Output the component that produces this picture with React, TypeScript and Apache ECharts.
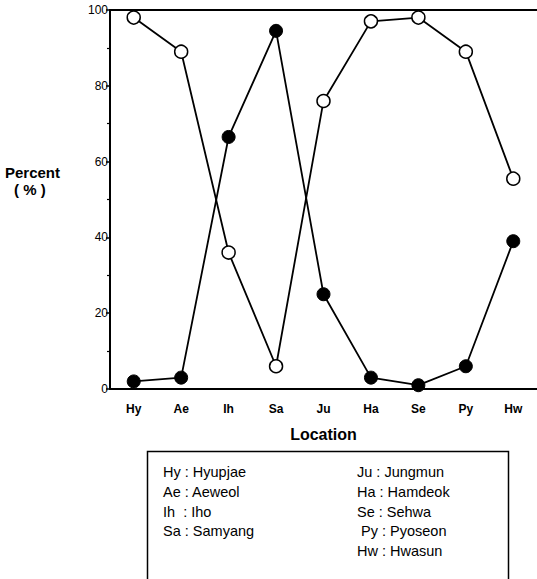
import React, { useEffect, useRef } from "react";
import * as echarts from "echarts";

const categories = ["Hy", "Ae", "Ih", "Sa", "Ju", "Ha", "Se", "Py", "Hw"];
const openSeries = [98, 89, 36, 6, 76, 97, 98, 89, 55.5];
const filledSeries = [2, 3, 66.5, 94.5, 25, 3, 1, 6, 39];
const yTicks = [0, 20, 40, 60, 80, 100];
const legendLeft = ["Hy : Hyupjae", "Ae : Aeweol", "Ih  : Iho", "Sa : Samyang"];
const legendRight = ["Ju : Jungmun", "Ha : Hamdeok", "Se : Sehwa", " Py : Pyoseon", "Hw : Hwasun"];

const FONT = "'Liberation Sans', Arial, Helvetica, sans-serif";

export default function App() {
  const ref = useRef<HTMLDivElement>(null);
  useEffect(() => {
    if (!ref.current) return;
    const chart = echarts.init(ref.current, null, { renderer: "svg" });
    const legendTexts: any[] = [];
    legendLeft.forEach((t, i) => {
      legendTexts.push({
        type: "text",
        x: 163,
        y: 472 + i * 19.8,
        style: { text: t, font: `14.5px ${FONT}`, fill: "#000", verticalAlign: "middle" },
      });
    });
    legendRight.forEach((t, i) => {
      legendTexts.push({
        type: "text",
        x: 357,
        y: 472 + i * 19.8,
        style: { text: t, font: `14.5px ${FONT}`, fill: "#000", verticalAlign: "middle" },
      });
    });
    chart.setOption({
      animation: false,
      backgroundColor: "#fff",
      grid: { left: 110, right: 0, top: 10, bottom: 190, containLabel: false },
      xAxis: [
        {
          type: "category",
          data: categories,
          boundaryGap: true,
          axisLine: { lineStyle: { color: "#000", width: 2 } },
          axisTick: { alignWithLabel: true, length: 5, lineStyle: { color: "#000", width: 1.5 } },
          axisLabel: { color: "#000", fontSize: 12, fontFamily: FONT, fontWeight: "bold", margin: 14 },
          name: "Location",
          nameLocation: "middle",
          nameGap: 37,
          nameTextStyle: { color: "#000", fontSize: 16, fontWeight: "bold", fontFamily: FONT },
          splitLine: { show: false },
        },
        {
          type: "category",
          data: categories,
          position: "top",
          axisLine: { show: true, lineStyle: { color: "#000", width: 2 } },
          axisTick: { show: false },
          axisLabel: { show: false },
          splitLine: { show: false },
        },
      ],
      yAxis: {
        type: "value",
        min: 0,
        max: 100,
        interval: 20,
        axisLine: { show: true, lineStyle: { color: "#000", width: 2 } },
        axisTick: { show: true, length: 4, lineStyle: { color: "#000", width: 1.5 } },
        minorTick: { show: true, splitNumber: 2, length: 3, lineStyle: { color: "#000", width: 1.2 } },
        axisLabel: {
          color: "#000",
          fontSize: 12,
          fontFamily: FONT,
          margin: 2,
          customValues: yTicks,
        },
        splitLine: { show: false },
      },
      graphic: [
        {
          type: "text",
          x: 5,
          y: 172,
          style: { text: "Percent", font: `bold 15px ${FONT}`, fill: "#000", verticalAlign: "middle" },
        },
        {
          type: "text",
          x: 14,
          y: 189,
          style: { text: "( % )", font: `bold 15px ${FONT}`, fill: "#000", verticalAlign: "middle" },
        },
        {
          type: "rect",
          shape: { x: 147.5, y: 451.5, width: 361, height: 140 },
          style: { fill: "none", stroke: "#000", lineWidth: 1.5 },
        },
        ...legendTexts,
      ],
      series: [
        {
          type: "line",
          data: openSeries,
          symbol: "circle",
          symbolSize: 13,
          lineStyle: { color: "#000", width: 1.8 },
          itemStyle: { color: "#fff", borderColor: "#000", borderWidth: 1.5 },
          z: 3,
        },
        {
          type: "line",
          data: filledSeries,
          symbol: "circle",
          symbolSize: 13,
          lineStyle: { color: "#000", width: 1.8 },
          itemStyle: { color: "#000", borderColor: "#000", borderWidth: 1 },
          z: 4,
        },
      ],
    });
    return () => chart.dispose();
  }, []);
  return <div ref={ref} style={{ width: 537, height: 579, position: "absolute", left: 0, top: 0 }} />;
}
